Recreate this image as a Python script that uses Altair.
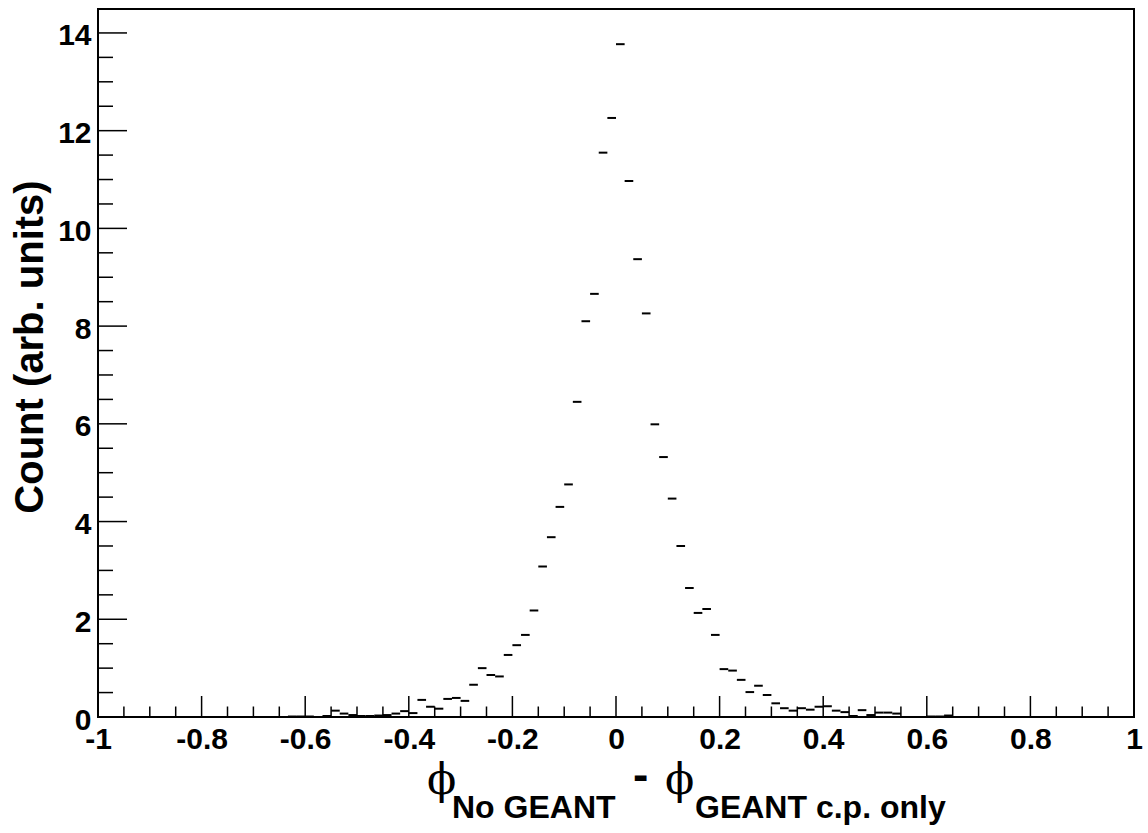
import altair as alt
import pandas as pd

# Histogram: 120 bins over [-1, 1]; counts listed from the bin whose left edge is -38/60
N_BINS = 120
X_MIN, X_MAX = -1.0, 1.0
counts = [
    0.01, 0.01, 0.01, 0.00, 0.02, 0.13, 0.07, 0.04, 0.02, 0.02,
    0.03, 0.04, 0.07, 0.12, 0.08, 0.35, 0.21, 0.17, 0.37, 0.39,
    0.33, 0.66, 1.00, 0.86, 0.83, 1.27, 1.47, 1.68, 2.18, 3.08,
    3.68, 4.30, 4.76, 6.45, 8.10, 8.66, 11.55, 12.26, 13.77, 10.97,
    9.37, 8.26, 5.99, 5.32, 4.47, 3.50, 2.64, 2.13, 2.21, 1.68,
    0.98, 0.95, 0.76, 0.51, 0.64, 0.45, 0.28, 0.18, 0.13, 0.18,
    0.15, 0.21, 0.22, 0.13, 0.10, 0.02, 0.14, 0.04, 0.09, 0.09,
    0.07, 0.00, 0.00, 0.00, 0.01, 0.01, 0.03,
]
x_major = [-1, -0.8, -0.6, -0.4, -0.2, 0, 0.2, 0.4, 0.6, 0.8, 1]
x_minor_step = 0.05
y_major = [0, 2, 4, 6, 8, 10, 12, 14]
y_minor_step = 0.5
Y_MAX = 14.49

bw = (X_MAX - X_MIN) / N_BINS
first_idx = N_BINS // 2 - 38
rows = []
for i, c in enumerate(counts):
    if c <= 0:
        continue
    lo = X_MIN + (first_idx + i) * bw
    rows.append({"lo": lo, "hi": lo + bw, "c": c})
hist = pd.DataFrame(rows)

x_minor = [round(X_MIN + k * x_minor_step, 4) for k in range(int(round((X_MAX - X_MIN) / x_minor_step)) + 1)]
x_minor = [v for v in x_minor if all(abs(v - m) > 1e-6 for m in x_major)]
y_minor = [k * y_minor_step for k in range(int(Y_MAX / y_minor_step) + 1)]
y_minor = [v for v in y_minor if all(abs(v - m) > 1e-6 for m in y_major)]

W, H = 1036, 708
FONT = "Liberation Sans"

xs = alt.Scale(domain=[X_MIN, X_MAX], nice=False, zero=False)
ys = alt.Scale(domain=[0, Y_MAX], nice=False, zero=False)

base = alt.Chart(hist).mark_rule(color="black", strokeWidth=2).encode(
    x=alt.X("lo:Q", scale=xs,
            axis=alt.Axis(values=x_major, title=None, ticks=False, domain=False,
                          labelExpr="datum.value < 0 ? '-' + format(-datum.value, '~g') : format(datum.value, '~g')",
                          grid=False, labelFont=FONT, labelFontSize=30, labelFontWeight="bold",
                          labelColor="black", labelPadding=7, labelFlush=False,
                          labelOverlap=False, labelBound=False)),
    x2="hi:Q",
    y=alt.Y("c:Q", scale=ys,
            axis=alt.Axis(values=y_major, title=None, ticks=False, domain=False, grid=False,
                          labelFont=FONT, labelFontSize=30, labelFontWeight="bold",
                          labelColor="black", labelPadding=7, labelOffset=3, labelOverlap=False,
                          labelBound=False, labelFlush=False)),
)

def xt(vals, length):
    return alt.Chart(pd.DataFrame({"v": vals})).mark_rule(color="black", strokeWidth=1.5).encode(
        x=alt.X("v:Q", scale=xs), y=alt.value(H), y2=alt.value(H - length))

def yt(vals, length):
    return alt.Chart(pd.DataFrame({"v": vals})).mark_rule(color="black", strokeWidth=1.5).encode(
        y=alt.Y("v:Q", scale=ys), x=alt.value(0), x2=alt.value(length))

def txt(s, x, y, size, font=FONT, weight="bold", angle=0, align="left", baseline="alphabetic"):
    return alt.Chart(pd.DataFrame({"t": [s]})).mark_text(
        font=font, fontSize=size, fontWeight=weight, angle=angle, align=align,
        baseline=baseline, color="black").encode(
        text="t:N", x=alt.value(x), y=alt.value(y))

OX, OY = 98, 9
texts = [
    txt("Count (arb. units)", 31 - OX, 347 - OY, 40, angle=270, align="center", baseline="middle"),
    txt("\u03d5", 427 - OX, 794 - OY, 43, font="DejaVu Serif", weight="normal"),
    txt("No GEANT", 452 - OX, 818 - OY, 32),
    txt("-", 633 - OX, 790 - OY, 46),
    txt("\u03d5", 665 - OX, 794 - OY, 43, font="DejaVu Serif", weight="normal"),
    txt("GEANT c.p. only", 695 - OX, 818 - OY, 32),
]

chart = alt.layer(
    base, xt(x_major, 21), xt(x_minor, 10.5), yt(y_major, 29), yt(y_minor, 15), *texts
).properties(
    width=W, height=H,
    autosize=alt.AutoSizeParams(type="none"),
    padding={"left": OX, "top": OY, "right": 1148 - OX - W, "bottom": 833 - OY - H},
    background="white",
).configure_view(stroke="black", strokeWidth=2)

chart.save("out.html", embed_options={"renderer": "svg", "actions": False})
